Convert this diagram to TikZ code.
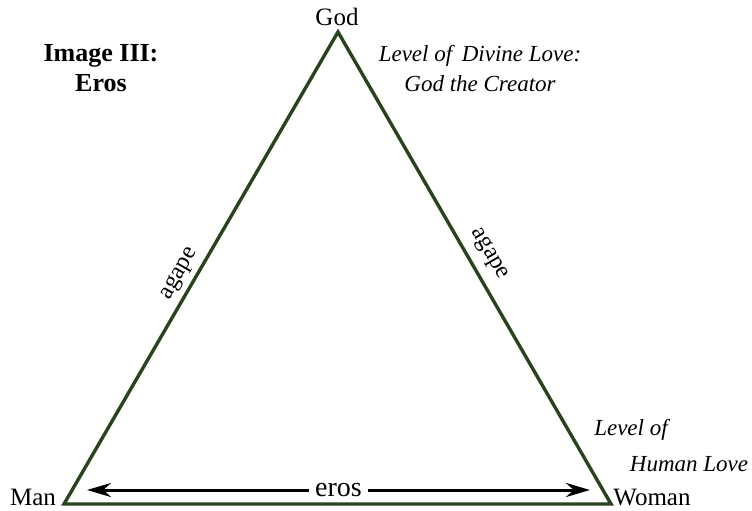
\documentclass[tikz,border=0pt]{standalone}
\usepackage{fontspec}
\setmainfont{Liberation Serif}
\usetikzlibrary{arrows.meta}
\definecolor{triGreen}{RGB}{40,68,30}
\tikzset{
  side/.style={triGreen, line width=3.4pt, line join=miter},
  corner/.style={anchor=base, font=\fontsize{25}{27}\selectfont},
  levelnote/.style={anchor=base, font=\fontsize{23}{30}\selectfont\itshape, align=center},
  lovename/.style={font=\fontsize{24}{26}\selectfont}
}
\begin{document}
\begin{tikzpicture}[x=1pt,y=-1pt]
\useasboundingbox (0,0) rectangle (752,511);
% Corners of the triangle
\coordinate (God) at (338,32);
\coordinate (Man) at (64,504);
\coordinate (Woman) at (611,504);
% Triangle
\draw[side] (Man) -- (God) -- (Woman) -- cycle;
% Corner labels
\node[corner] (godlabel) at (337,26) {God};
\node[corner] (manlabel) at (33,505) {Man};
\node[corner] (womanlabel) at (652,505) {Woman};
% Title (base anchor sits on the last line)
\node[anchor=base, font=\fontsize{26}{30}\selectfont\bfseries, align=center] (title) at (101,92) {Image III:\\Eros};
% Level notes
\node[levelnote] (divine) at (480,92) {Level of\, Divine Love:\\God the Creator};
\node[levelnote] (humanA) at (631,435) {Level of};
\node[levelnote] (humanB) at (689,471) {Human Love};
% agape on the two upper sides
\node[lovename, rotate=60] (agapeL) at (180,274) {agape};
\node[lovename, rotate=-60] (agapeR) at (489,254) {agape};
% eros arrow
\coordinate (erosL) at (87,490);
\coordinate (erosR) at (590,490);
\draw[line width=3pt, {Stealth[length=24pt,width=14pt]}-{Stealth[length=24pt,width=14pt]}]
  (erosL) -- node[fill=white, inner xsep=6pt, font=\fontsize{28}{30}\selectfont] (eros) {eros} (erosR);
\end{tikzpicture}
\end{document}
